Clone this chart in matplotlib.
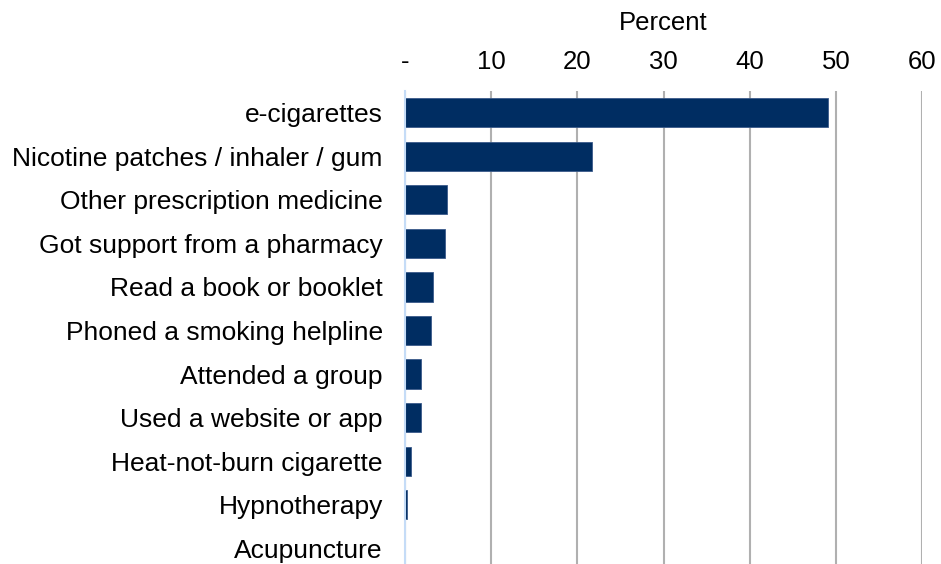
import matplotlib
matplotlib.use("Agg")
import matplotlib.pyplot as plt

plt.rcParams['font.family'] = ['Liberation Sans', 'DejaVu Sans']

methods = ['e-cigarettes', 'Nicotine patches / inhaler / gum', 'Other prescription medicine',
           'Got support from a pharmacy', 'Read a book or booklet', 'Phoned a smoking helpline',
           'Attended a group', 'Used a website or app', 'Heat-not-burn cigarette',
           'Hypnotherapy', 'Acupuncture']
percent = [49.1, 21.7, 4.9, 4.7, 3.2, 3.0, 1.8, 1.8, 0.7, 0.2, 0.05]
ticks = [0, 10, 20, 30, 40, 50, 60]
tick_labels = ['-', '10', '20', '30', '40', '50', '60']

fig = plt.figure(figsize=(9.41, 5.64), dpi=100)
ax = fig.add_axes([405 / 941, -6 / 564, 517 / 941, 479 / 564])

pos = list(range(len(methods)))
ax.barh(pos, percent, height=0.67, color='#002D62', edgecolor='#3a5a8a', linewidth=0.6, zorder=3)
ax.set_ylim(len(methods) - 0.5, -0.5)
ax.set_yticks(pos)
ax.set_yticklabels(methods, fontsize=19)
ax.tick_params(axis='y', length=0, pad=16)

ax.set_xlim(0, 60)
ax.xaxis.tick_top()
ax.xaxis.set_label_position('top')
ax.set_xticks(ticks)
ax.set_xticklabels(tick_labels, fontsize=18.5)
ax.tick_params(axis='x', length=0, pad=12.5)
ax.set_xlabel('Percent', fontsize=18.5, labelpad=14)

ax.grid(axis='x', color='#b0b0b0', linewidth=1.5, zorder=0)
for side in ['top', 'right', 'bottom']:
    ax.spines[side].set_visible(False)
ax.spines['left'].set_color('#c5dcf7')
ax.spines['left'].set_linewidth(1.5)
ax.spines['left'].set_zorder(4)

fig.savefig('out.png', dpi=100)
